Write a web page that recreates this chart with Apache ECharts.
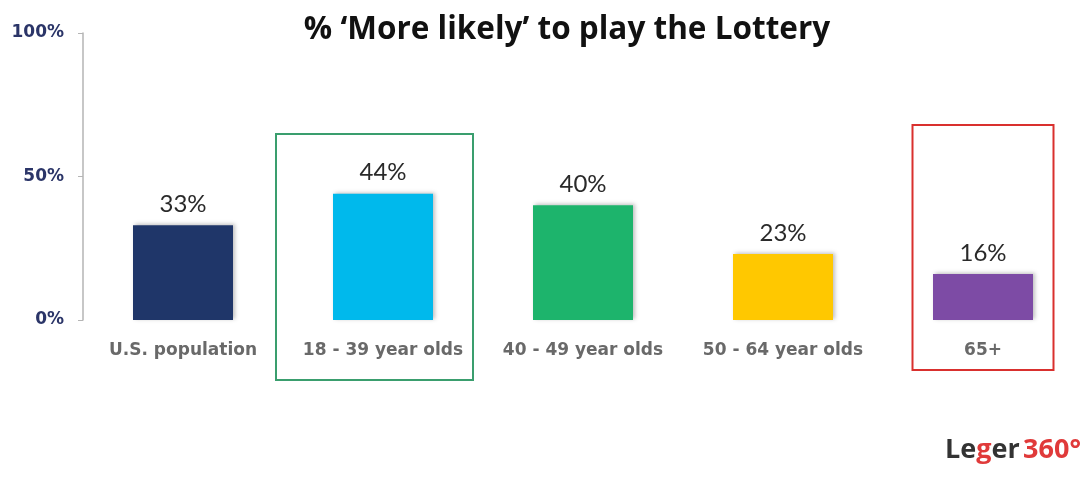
<!DOCTYPE html>
<html>
<head>
<meta charset="utf-8">
<script src="https://cdn.jsdelivr.net/npm/echarts@6/dist/echarts.min.js"></script>
<style>
  html, body { margin: 0; padding: 0; background: #ffffff; }
  #chart { width: 1085px; height: 484px; }
</style>
</head>
<body>
<div id="chart"></div>
<script>
// Share of each group saying they are "more likely" to play the lottery
const categories = ['U.S. population', '18 - 39 year olds', '40 - 49 year olds', '50 - 64 year olds', '65+'];
const values = [33, 44, 40, 23, 16];
const barColors = ['#1f3669', '#00b9ec', '#1db46c', '#ffc800', '#7d4ba5'];
const yTicks = [0, 50, 100];

const chart = echarts.init(document.getElementById('chart'));

const option = {
  backgroundColor: '#ffffff',
  animation: false,
  title: {
    text: '% \u2018More likely\u2019 to play the Lottery',
    left: 562,
    textAlign: 'center',
    top: 9,
    textStyle: { fontFamily: 'Open Sans', fontWeight: 'bold', fontSize: 31.5, color: '#111111' }
  },
  grid: { left: 83, right: 2, top: 33, bottom: 164, containLabel: false },
  xAxis: {
    type: 'category',
    data: categories,
    axisLine: { show: false },
    axisTick: { show: false },
    axisLabel: {
      interval: 0,
      margin: 22,
      fontFamily: 'DejaVu Sans',
      fontWeight: 'bold',
      fontSize: 17,
      color: '#696969'
    }
  },
  yAxis: {
    type: 'value',
    min: 0,
    max: 100,
    interval: 50,
    axisLine: { show: true, lineStyle: { color: '#b5b5b5', width: 1.5 } },
    axisTick: { show: true, length: 5, lineStyle: { color: '#b5b5b5' } },
    splitLine: { show: false },
    axisLabel: {
      margin: 19,
      fontFamily: 'DejaVu Sans',
      fontWeight: 'bold',
      fontSize: 17,
      color: '#2b3568',
      formatter: v => yTicks.includes(v) ? v + '%' : ''
    }
  },
  series: [{
    type: 'bar',
    data: values.map((v, i) => ({ value: v, itemStyle: { color: barColors[i] } })),
    barWidth: 100,
    itemStyle: {
      shadowColor: 'rgba(0,0,0,0.25)',
      shadowBlur: 4,
      shadowOffsetX: 2,
      shadowOffsetY: -1
    },
    label: {
      show: true,
      position: 'top',
      distance: 9,
      formatter: p => p.value + '%',
      fontFamily: 'Lato',
      fontWeight: 'normal',
      fontSize: 24,
      color: '#2a2a2a'
    }
  }]
};

chart.setOption(option);

// Highlight frames around the youngest and oldest groups, placed from the category axis
function frameAround(idx, shift, halfWidth, topPx, bottomPx, color) {
  const cx = chart.convertToPixel({ xAxisIndex: 0 }, categories[idx]) + shift;
  return {
    type: 'rect',
    shape: { x: cx - halfWidth, y: topPx, width: halfWidth * 2, height: bottomPx - topPx },
    style: { fill: 'none', stroke: color, lineWidth: 2 }
  };
}

chart.setOption({
  graphic: [
    frameAround(1, -8.5, 98.5, 134, 380, '#3a9e6e'),
    frameAround(4, 0, 70.5, 125, 370, '#d9302e'),
    {
      type: 'text',
      right: 4,
      top: 437,
      style: {
        text: '{d|Le}{r|g}{d|er} {r|360\u00b0}',
        rich: {
          d: { fontFamily: 'Open Sans', fontWeight: 'bold', fontSize: 27, fill: '#333333' },
          r: { fontFamily: 'Open Sans', fontWeight: 'bold', fontSize: 27, fill: '#e03a3a' }
        }
      }
    }
  ]
});
</script>
</body>
</html>
